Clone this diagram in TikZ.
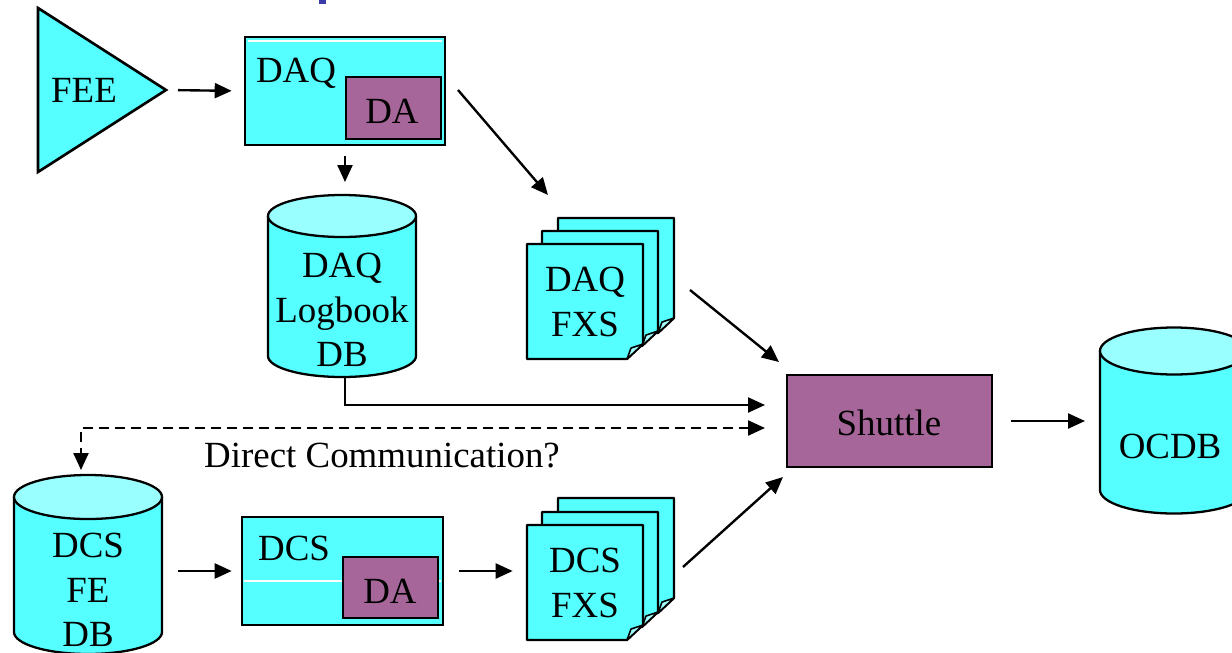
\documentclass[tikz,border=0pt]{standalone}
\usepackage{fontspec}
\setmainfont{Liberation Serif}
\usetikzlibrary{arrows.meta}
\definecolor{cybody}{HTML}{55FFFF}
\definecolor{cytop}{HTML}{99FFFF}
\definecolor{dapurple}{HTML}{A6669A}
\definecolor{titleblue}{HTML}{3A3AA8}
% cylinder: cx, y of top ellipse centre, y of bottom ellipse centre, rx, ry (pixels)
\newcommand\dbcyl[5]{%
  \fill[cybody] (#1-#4,#2) -- (#1-#4,#3)
    arc[start angle=180,end angle=360,x radius=#4*0.02cm,y radius=#5*0.02cm]
    -- (#1+#4,#2) -- cycle;
  \draw[outl] (#1-#4,#2) -- (#1-#4,#3)
    arc[start angle=180,end angle=360,x radius=#4*0.02cm,y radius=#5*0.02cm]
    -- (#1+#4,#2);
  \filldraw[outl,fill=cytop] (#1,#2) ellipse[x radius=#4*0.02cm,y radius=#5*0.02cm];
}
\begin{document}
\begin{tikzpicture}[x=0.02cm,y=-0.02cm,
  outl/.style={line width=1.3pt,draw=black},
  cybox/.style={draw=black,line width=1.5pt,fill=cybody,inner sep=0pt},
  dabox/.style={draw=black,line width=1.5pt,fill=dapurple,inner sep=0pt},
  txt/.style={font=\fontsize{21}{25.5}\selectfont,inner sep=0pt,align=center},
  ghost/.style={inner sep=0pt,outer sep=0pt},
  arr/.style={line width=1.35pt,-{Triangle[length=0.34cm,width=0.3cm]}},
  darr/.style={line width=1.35pt,dash pattern=on 0.2cm off 0.12cm,
    {Triangle[length=0.34cm,width=0.3cm]}-{Triangle[length=0.34cm,width=0.3cm]}},
  fxspage/.pic={
    \filldraw[fill=cybody,line width=1.3pt,line join=round]
      (0,0) -- (116,0) -- (116,100) -- (100,115) -- (0,115) -- cycle;
    \filldraw[fill=cybody!55!white,line width=0.9pt,line join=round]
      (100,115) -- (104,104) -- (116,100) -- cycle;
  }]
\useasboundingbox (0,0) rectangle (1232,653);
\clip (0,0) rectangle (1232,653);

% title fragment
\fill[titleblue] (319,0) rectangle (326,4);

% FEE
\filldraw[fill=cybody,line width=1.5pt,line join=miter] (38,8) -- (166,90) -- (38,172) -- cycle;
\coordinate (feetip) at (166,90);
\node[txt,anchor=base] (feetxt) at (84,102) {FEE};

% DAQ box
\node[cybox,minimum width=200*0.02cm,minimum height=108*0.02cm] (daq) at (345,91) {};
\draw[white,line width=0.6pt] (248,41) -- (442,41);
\node[dabox,minimum width=95*0.02cm,minimum height=62*0.02cm] (daqda) at (393.5,108) {};
\node[txt,anchor=base] (daqtxt) at (296,82) {DAQ};
\node[txt,anchor=base] (daqdatxt) at (392,123) {DA};

% DAQ Logbook DB
\dbcyl{342}{216}{356}{74}{21}
\node[ghost,minimum width=148*0.02cm,minimum height=182*0.02cm] (logbook) at (345,286) {};
\node[txt] (logbooktxt) at (342,310) {DAQ\\Logbook\\DB};

% DAQ FXS
\pic at (558,218) {fxspage};
\pic at (542,231) {fxspage};
\pic at (527,244) {fxspage};
\node[txt,minimum width=116*0.02cm,minimum height=115*0.02cm] (daqfxs) at (585,302) {DAQ\\FXS};

% Shuttle
\node[dabox,minimum width=205*0.02cm,minimum height=92*0.02cm] (shuttle) at (889.5,421) {};
\node[txt,anchor=base] (shuttletxt) at (889,435) {Shuttle};

% OCDB
\dbcyl{1174}{351}{490}{74}{23.5}
\node[ghost,minimum width=148*0.02cm,minimum height=185*0.02cm] (ocdb) at (1174,420.5) {};
\node[txt,anchor=base] (ocdbtxt) at (1170,458) {OCDB};

% DCS FE DB
\dbcyl{88}{497}{632}{74}{22}
\node[ghost,minimum width=148*0.02cm,minimum height=180*0.02cm] (dcsfe) at (88,565) {};
\node[txt] (dcsfetxt) at (88,590) {DCS\\FE\\DB};

% DCS box
\node[cybox,minimum width=201*0.02cm,minimum height=108*0.02cm] (dcs) at (342.5,571) {};
\draw[white,line width=0.6pt] (244,581) -- (441,581);
\node[dabox,minimum width=95*0.02cm,minimum height=61*0.02cm] (dcsda) at (390.5,587.5) {};
\node[txt,anchor=base] (dcstxt) at (294,560) {DCS};
\node[txt,anchor=base] (dcsdatxt) at (390,603) {DA};

% DCS FXS
\pic at (558,498) {fxspage};
\pic at (542,512) {fxspage};
\pic at (527,525) {fxspage};
\node[txt,minimum width=116*0.02cm,minimum height=115*0.02cm] (dcsfxs) at (585,583) {DCS\\FXS};

% label
\node[txt,anchor=base] (dclabel) at (382,467) {Direct Communication?};

% connector end points
\coordinate (daqout) at (458,90);
\coordinate (daqfxsin) at (548,195);
\coordinate (daqfxsout) at (690,290);
\coordinate (shin1) at (779,362);
\coordinate (dcsfxsout) at (683,567);
\coordinate (shin2) at (783,477);
\coordinate (lbin) at (765,405);
\coordinate (dashin) at (765,428);
\coordinate (dashdown) at (81,470);

% connectors
\draw[arr,shorten <=0.24cm,shorten >=0.24cm] (feetip) -- (daq.west);
\draw[arr,shorten <=0.2cm,shorten >=0.26cm] (daq.south) -- (daq.south |- logbook.north);
\draw[arr] (daqout) -- (daqfxsin);
\draw[arr] (logbook.south) |- (lbin);
\draw[darr] (dashin) -| (dashdown);
\draw[arr] (daqfxsout) -- (shin1);
\draw[arr] (dcsfxsout) -- (shin2);
\draw[arr,shorten <=0.36cm,shorten >=0.3cm] (shuttle.east) -- (shuttle.east -| ocdb.west);
\draw[arr,shorten <=0.32cm,shorten >=0.18cm] (dcsfe.east |- dcs.west) -- (dcs.west);
\draw[arr,shorten <=0.3cm,shorten >=0.28cm] (dcs.east) -- (dcs.east -| dcsfxs.west);
\end{tikzpicture}
\end{document}
